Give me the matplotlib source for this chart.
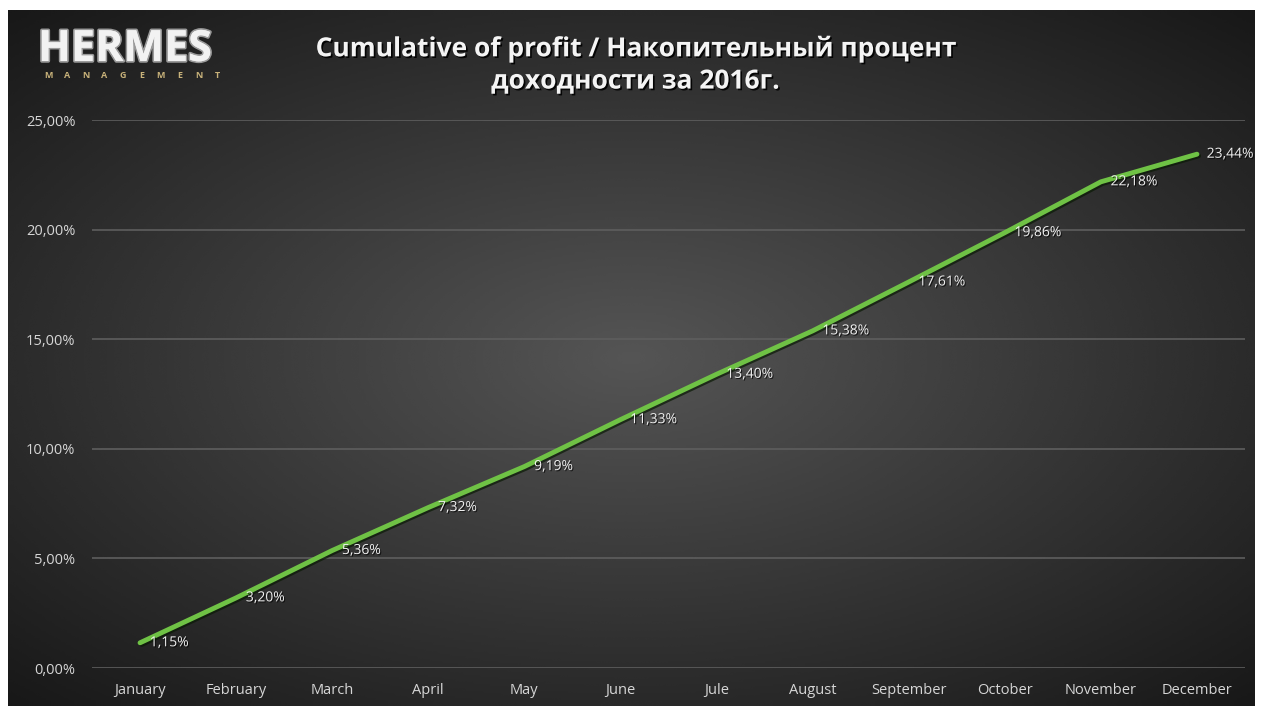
import numpy as np
import matplotlib.pyplot as plt
import matplotlib.patheffects as pe
from matplotlib.ticker import FuncFormatter

months = ['January', 'February', 'March', 'April', 'May', 'June',
          'Jule', 'August', 'September', 'October', 'November', 'December']
profit = [1.15, 3.20, 5.36, 7.32, 9.19, 11.33, 13.40, 15.38, 17.61, 19.86, 22.18, 23.44]
y_ticks = [0, 5, 10, 15, 20, 25]

plt.rcParams['font.family'] = ['Open Sans', 'DejaVu Sans']

fig = plt.figure(figsize=(12.67, 7.06), dpi=100)
fig.patch.set_facecolor('white')

# dark panel, lighter in the middle
bg = fig.add_axes([8 / 1267, 0, 1247 / 1267, 696 / 706], zorder=0)
yy, xx = np.mgrid[-1:1:300j, -1:1:500j]
r = np.sqrt(xx ** 2 + (yy * 1.05) ** 2)
shade = np.clip((85 - 42 * r) / 255, 0, 1)
bg.imshow(shade, cmap='gray', vmin=0, vmax=1, aspect='auto',
          extent=[0, 1, 0, 1], interpolation='bicubic')
bg.set_axis_off()

ax = fig.add_axes([92 / 1267, 38 / 706, 1153 / 1267, 548 / 706], zorder=1)
ax.patch.set_alpha(0)

x = np.arange(len(months))
ax.plot(x, profit, color='#6fc245', lw=3.5, solid_capstyle='round',
        path_effects=[pe.SimpleLineShadow(offset=(1.2, -1.2), shadow_color='#0a1a05', alpha=0.7),
                      pe.Normal()])

for xi, v in zip(x, profit):
    ax.annotate(f'{v:.2f}%'.replace('.', ','), (xi, v), xytext=(7, 0),
                textcoords='offset points', ha='left', va='center',
                fontsize=10, color='#f0f0f0',
                path_effects=[pe.withSimplePatchShadow(offset=(0.8, -0.8), shadow_rgbFace='black', alpha=0.7)])

ax.set_xlim(-0.5, 11.5)
ax.set_ylim(0, 25)
ax.set_xticks(x)
ax.set_xticklabels(months)
ax.set_yticks(y_ticks)
ax.yaxis.set_major_formatter(FuncFormatter(lambda v, p: f'{v:.2f}%'.replace('.', ',')))
ax.tick_params(colors='#d6d6d6', labelsize=10.5, length=0)
ax.tick_params(axis='y', pad=12)
ax.tick_params(axis='x', pad=11)
ax.grid(axis='y', color='#5e5e5e', lw=1.2)
ax.set_axisbelow(True)
for s in ax.spines.values():
    s.set_visible(False)

fig.text(635 / 1267, 0.908, 'Cumulative of profit / Накопительный процент\nдоходности за 2016г.',
         ha='center', va='center', fontsize=19, fontweight='bold', color='#f4f4f4',
         linespacing=1.25,
         path_effects=[pe.withSimplePatchShadow(offset=(1.2, -1.2), shadow_rgbFace='black', alpha=0.9)])

# logo
fig.text(38 / 1267, 1 - 61 / 706, 'HERMES', ha='left', va='baseline', fontsize=31,
         fontweight='bold', color='#f2f2f2',
         path_effects=[pe.withStroke(linewidth=2.5, foreground='#9a9a9a'), pe.Normal()])
for i, ch in enumerate('MANAGEMENT'):
    fig.text((48 + i * 18.8) / 1267, 1 - 75 / 706, ch, ha='center', va='center',
             fontsize=6.5, fontweight='bold', color='#c8b27a')

fig.savefig('out.png', dpi=100, facecolor=fig.get_facecolor())
